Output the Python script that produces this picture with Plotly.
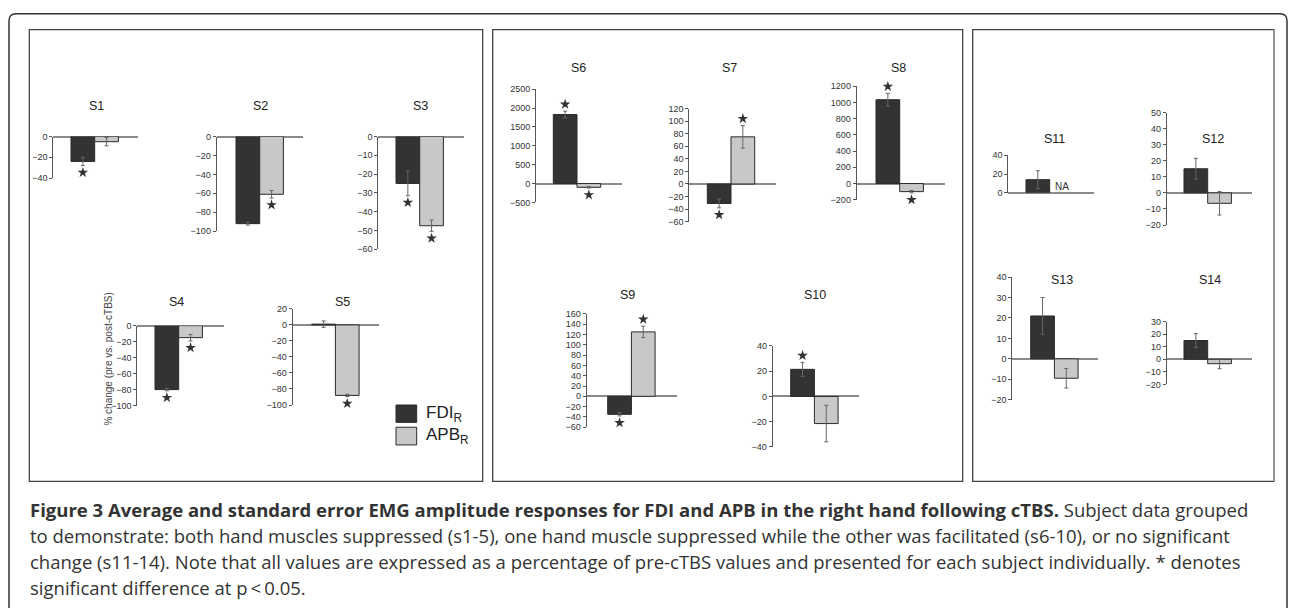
import plotly.graph_objects as go

W, H = 1290, 608

subjects = ["S1", "S2", "S3", "S4", "S5", "S6", "S7", "S8", "S9", "S10", "S11", "S12", "S13", "S14"]
fdi_mean = [-24, -92, -25, -80, 1, 1830, -31, 1035, -35, 21.5, 14, 15, 21, 15]
fdi_se = [4, 1.5, 6.5, 1.5, 4, 90, 7, 78, 3, 5.5, 9.5, 6.5, 9, 5.5]
apb_mean = [-5, -61, -47.5, -15, -88, -100, 75, -100, 125, -21.5, None, -6.5, -9.5, -3.5]
apb_se = [4, 4, 3, 4, 1.5, 20, 18, 15, 11, 14.5, None, 7.3, 4.8, 4]
fdi_sig = [1, 1, 1, 1, 0, 1, 1, 1, 1, 1, 0, 0, 0, 0]
apb_sig = [0, 1, 1, 1, 1, 1, 1, 1, 1, 0, 0, 0, 0, 0]

# axis ticks
y_min = [-40, -100, -60, -100, -100, -500, -60, -200, -60, -40, 0, -20, -20, -20]
y_max = [0, 0, 0, 0, 20, 2500, 120, 1200, 160, 40, 40, 50, 40, 30]
y_step = [20, 20, 10, 20, 20, 500, 20, 200, 20, 20, 20, 10, 10, 10]

caption = [
    "<b>Figure 3 Average and standard error EMG amplitude responses for FDI and APB in the right hand following cTBS.</b> Subject data grouped",
    "to demonstrate: both hand muscles suppressed (s1-5), one hand muscle suppressed while the other was facilitated (s6-10), or no significant",
    "change (s11-14). Note that all values are expressed as a percentage of pre-cTBS values and presented for each subject individually. * denotes",
    "significant difference at p\u2009<\u20090.05.",
]

# pixel layout of each small panel: y-axis x, first bar left, zero line end, axis top, axis bottom, title x, title y
panel_px = [
    (53.3, 71, 138.3, 133.7, 176, 96.7, 103),
    (216.7, 236, 303.3, 133.7, 230, 260, 103),
    (378.3, 396, 464.3, 133.7, 248.3, 420, 103),
    (137.3, 155, 224, 326, 407.3, 176.7, 301.7),
    (292.7, 311.7, 379.3, 309, 406.7, 342.7, 301.7),
    (536, 553.3, 621.7, 85.7, 200.7, 578.3, 64.3),
    (689.3, 707.3, 775.7, 105.3, 220.3, 729, 64.3),
    (856.7, 876, 945, 82.7, 198, 898.3, 64.3),
    (586.7, 607.7, 676.7, 314, 429.3, 627.3, 295),
    (772.7, 790.7, 859, 346.7, 449.3, 815, 295),
    (1008.3, 1026, 1094, 152.7, 191, 1054, 136),
    (1166.7, 1184, 1252.3, 109.3, 223.7, 1213.3, 136),
    (1012.3, 1030.7, 1098.3, 276.7, 401.3, 1061.7, 279.3),
    (1166.7, 1184, 1252.3, 322, 385.7, 1210, 279.3),
]
BAR_PX = 23.7


def px(x):
    return x / W


def py(y):
    return 1 - y / H


fig = go.Figure()
layout = {}
annotations = []
shapes = []

for i, name in enumerate(subjects):
    k = "" if i == 0 else str(i + 1)
    xa, xl, xe, yt, yb, tx, ty = panel_px[i]
    c = xl + BAR_PX / 2
    xr = [(xa - c) / BAR_PX, (xe - c) / BAR_PX]
    layout["xaxis" + k] = dict(domain=[px(xa), px(xe)], range=xr, visible=False,
                              anchor="y" + k, fixedrange=True)
    layout["yaxis" + k] = dict(
        domain=[py(yb), py(yt)], range=[y_min[i], y_max[i]], anchor="x" + k,
        tickvals=list(range(y_min[i], y_max[i] + 1, y_step[i])),
        showline=True, linecolor="#555", linewidth=1,
        ticks="outside", ticklen=3, tickwidth=1, tickcolor="#555",
        showgrid=False, zeroline=True, zerolinecolor="#8a8a8a", zerolinewidth=1.6,
        tickfont=dict(family="Liberation Sans, Arial", size=9, color="#333"),
        fixedrange=True,
    )
    xs, ys, es, cols = [0], [fdi_mean[i]], [fdi_se[i]], ["#333333"]
    if apb_mean[i] is not None:
        xs.append(1)
        ys.append(apb_mean[i])
        es.append(apb_se[i])
        cols.append("#c8c8c8")
    fig.add_trace(go.Bar(
        x=xs, y=ys, width=1, xaxis="x" + k, yaxis="y" + k,
        marker=dict(color=cols, line=dict(color="#2a2a2a", width=1)),
        error_y=dict(type="data", array=es, color="#666", thickness=1, width=2),
        showlegend=False, hoverinfo="skip",
    ))
    # significance stars, 7 px beyond the error bar end
    unit = (y_max[i] - y_min[i]) / (yb - yt)
    sx, sy = [], []
    for j, (sig, m, e) in enumerate([(fdi_sig[i], fdi_mean[i], fdi_se[i]),
                                     (apb_sig[i], apb_mean[i], apb_se[i])]):
        if sig:
            sgn = 1 if m >= 0 else -1
            sx.append(j)
            sy.append(m + sgn * (e + 7 * unit))
    if sx:
        fig.add_trace(go.Scatter(
            x=sx, y=sy, mode="markers", xaxis="x" + k, yaxis="y" + k,
            marker=dict(symbol="star", size=8, color="#333", line=dict(width=0)),
            showlegend=False, hoverinfo="skip", cliponaxis=False,
        ))
    annotations.append(dict(text=name, x=px(tx), y=py(ty), xref="paper", yref="paper",
                            showarrow=False, xanchor="center", yanchor="middle",
                            font=dict(family="Liberation Sans, Arial", size=12.5, color="#222")))
    if apb_mean[i] is None:
        annotations.append(dict(text="NA", x=1, y=0, xref="x" + k, yref="y" + k,
                                showarrow=False, xanchor="center", yanchor="bottom", yshift=-1,
                                font=dict(family="Liberation Sans, Arial", size=10, color="#333")))

# y axis title
annotations.append(dict(text="% change (pre vs. post-cTBS)", x=px(101), y=py(360),
                        xref="paper", yref="paper", showarrow=False, textangle=-90,
                        font=dict(family="Liberation Sans, Arial", size=10, color="#444")))

# legend
for lab, col, y0, y1 in [("FDI<sub>R</sub>", "#333333", 406.7, 424.3),
                         ("APB<sub>R</sub>", "#c8c8c8", 429.3, 447.3)]:
    shapes.append(dict(type="rect", xref="paper", yref="paper", x0=px(396), x1=px(416.7),
                       y0=py(y1), y1=py(y0), fillcolor=col, line=dict(color="#2a2a2a", width=1)))
    annotations.append(dict(text=lab, x=px(424), y=py((y0 + y1) / 2), xref="paper", yref="paper",
                            showarrow=False, xanchor="left", yanchor="middle",
                            font=dict(family="Liberation Sans, Arial", size=17, color="#222")))

# panel frames
for x0, x1 in [(29.3, 482.7), (492.7, 962.7), (972.7, 1274)]:
    shapes.append(dict(type="rect", xref="paper", yref="paper", x0=px(x0), x1=px(x1),
                       y0=py(484.3), y1=py(25), line=dict(color="#444", width=1.3)))
shapes.append(dict(type="line", xref="paper", yref="paper", x0=px(1274), x1=px(1274),
                   y0=py(484.3), y1=py(25), line=dict(color="#999", width=1.6)))

# outer rounded frame
r = 7
path = (f"M {px(9)} {py(620)} L {px(9)} {py(9 + r)} Q {px(9)} {py(9)} {px(9 + r)} {py(9)} "
        f"L {px(1287 - r)} {py(9)} Q {px(1287)} {py(9)} {px(1287)} {py(9 + r)} L {px(1287)} {py(620)}")
shapes.append(dict(type="path", xref="paper", yref="paper", path=path,
                   line=dict(color="#333", width=1.5)))

# caption
for n, line in enumerate(caption):
    annotations.append(dict(text=line, x=px(27.7), y=py(512.5 + n * 26.5), xref="paper", yref="paper",
                            showarrow=False, xanchor="left", yanchor="middle", align="left",
                            font=dict(family="Open Sans, Noto Sans", size=18.5, color="#333")))

fig.update_layout(
    width=W, height=H, autosize=False,
    margin=dict(l=0, r=0, t=0, b=0),
    paper_bgcolor="white", plot_bgcolor="rgba(0,0,0,0)",
    barmode="overlay", showlegend=False,
    annotations=annotations, shapes=shapes,
    **layout,
)

fig.write_html("out.html", config={"displayModeBar": False},
               post_script="document.body.style.margin='0';document.body.style.overflow='hidden';")
